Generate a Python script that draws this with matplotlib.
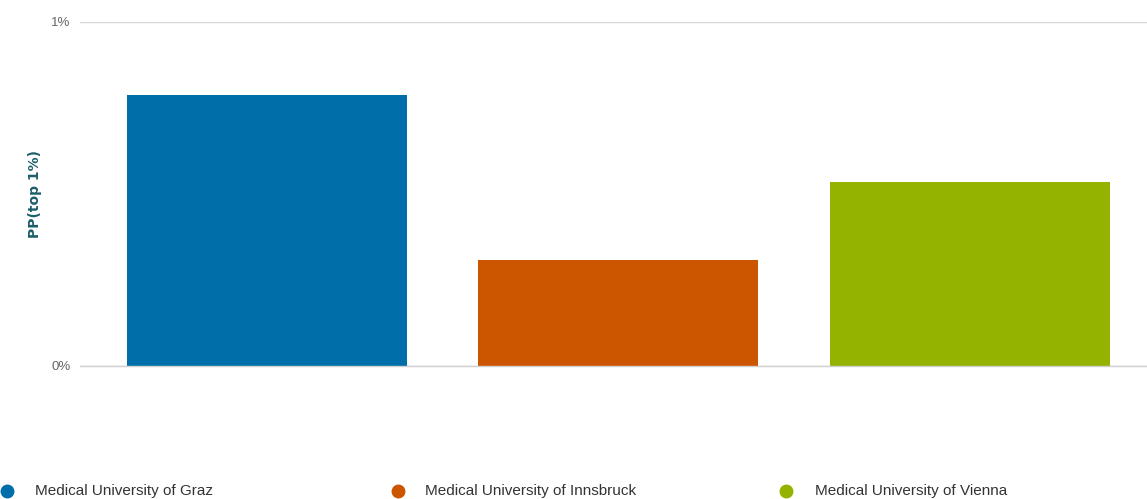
import matplotlib.pyplot as plt

universities = ['Medical University of Graz', 'Medical University of Innsbruck', 'Medical University of Vienna']
pp_top1 = [0.788, 0.308, 0.535]
colors = ['#006ea8', '#cc5500', '#93b300']

plt.rcParams['font.family'] = ['Liberation Sans', 'DejaVu Sans']

W, H = 1147, 499
fig = plt.figure(figsize=(W / 100, H / 100), dpi=100)
ax = fig.add_axes([80 / W, 1 - 366 / H, 1 - 80 / W, 344 / H])

x = list(range(len(universities)))
ax.bar(x, pp_top1, width=0.797, color=colors, zorder=3)

ax.set_xlim(-0.532, 2.505)
ax.set_ylim(0, 1)
ax.set_yticks([0, 1])
ax.set_yticklabels(['0%', '1%'], color='#666666', fontsize=9.5)
ax.tick_params(axis='y', length=0, pad=7)
ax.set_xticks([])
ax.grid(axis='y', color='#d8d8d8', linewidth=1, zorder=0)
ax.axhline(0, color='#d0d0d0', linewidth=1, zorder=4, clip_on=False)
for s in ax.spines.values():
    s.set_visible(False)
ax.set_ylabel('PP(top 1%)', fontsize=10, fontweight='bold', color='#1d5e6b',
              family=['DejaVu Sans'])
ax.yaxis.set_label_coords(-38 / 1067, 0.5)

# legend at the bottom, laid out by hand
leg_dot = [7, 398, 786]
leg_txt = [35, 425, 815]
for dx, tx, name, c in zip(leg_dot, leg_txt, universities, colors):
    fig.lines.append(plt.Line2D([dx / W], [1 - 491 / H], marker='o', markersize=9,
                                color=c, linestyle='', transform=fig.transFigure))
    fig.text(tx / W, 1 - 491 / H, name, fontsize=11, color='#333333',
             va='center', ha='left')

fig.savefig('out.png', dpi=100)
